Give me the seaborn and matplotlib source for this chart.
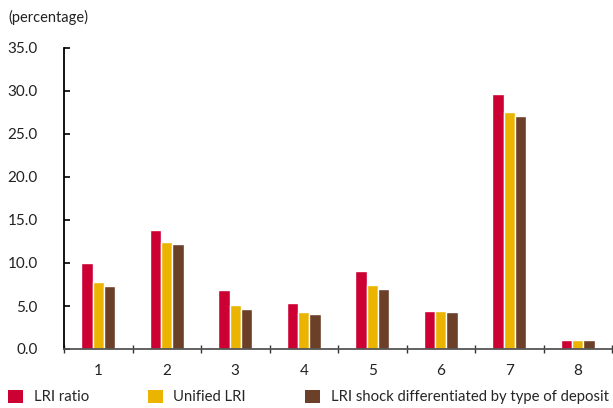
import numpy as np
import pandas as pd
import matplotlib.pyplot as plt
import seaborn as sns
from matplotlib.patches import Patch

# data
groups = ['1', '2', '3', '4', '5', '6', '7', '8']
lri_ratio = [10.0, 13.8, 6.9, 5.35, 9.05, 4.4, 29.7, 1.05]
unified_lri = [7.8, 12.4, 5.1, 4.3, 7.45, 4.4, 27.6, 1.0]
lri_shock = [7.3, 12.2, 4.65, 4.05, 7.0, 4.3, 27.1, 1.0]
series = ['LRI ratio', 'Unified LRI', 'LRI shock differentiated by type of deposit']
colors = ['#CC0033', '#EBB400', '#6B3F28']

df = pd.DataFrame({
    'group': groups * 3,
    'value': lri_ratio + unified_lri + lri_shock,
    'series': [series[0]] * 8 + [series[1]] * 8 + [series[2]] * 8,
})

sns.set_style('white')
plt.rcParams['font.family'] = ['Lato', 'DejaVu Sans']

fig = plt.figure(figsize=(6.13, 4.08), dpi=100)
ax = fig.add_axes([64 / 613, 1 - 349 / 408, 548 / 613, 301 / 408])

sns.barplot(data=df, x='group', y='value', hue='series', palette=colors,
            width=0.5, gap=0, ax=ax, legend=False, saturation=1)

ax.set_ylim(0, 35)
ax.set_xlim(-0.5, 7.5)
ax.set_yticks(np.arange(0, 35.1, 5))
ax.set_yticklabels([f'{v:.1f}' for v in np.arange(0, 35.1, 5)], fontsize=11, color='#222222')
ax.set_xticks(range(8))
ax.set_xticklabels(groups, fontsize=11, color='#222222')
ax.set_xticks(np.arange(-0.5, 7.6, 1), minor=True)
ax.tick_params(axis='x', which='major', bottom=True, length=0, pad=11)
ax.tick_params(axis='x', which='minor', bottom=True, length=6, direction='inout', width=1, color='#333333')
ax.tick_params(axis='y', left=True, length=4, direction='in', width=1.2, color='black', pad=19)
ax.set_xlabel('')
ax.set_ylabel('')
ax.spines['top'].set_visible(False)
ax.spines['right'].set_visible(False)
ax.spines['left'].set_color('black')
ax.spines['left'].set_linewidth(1.3)
ax.spines['bottom'].set_color('#555555')
ax.spines['bottom'].set_linewidth(1.3)

fig.text(8 / 613, 1 - 17 / 408, '(percentage)', fontsize=10.5, va='center', ha='left', color='#222222')

handles = [Patch(facecolor=c, edgecolor='none') for c in colors]
fig.legend(handles, series, loc='center left', bbox_to_anchor=(4 / 613, 1 - 397 / 408, 1 - 4 / 613, 0),
           mode='expand', ncol=3, frameon=False, fontsize=10.7, handlelength=1.0, handleheight=1.0,
           handletextpad=0.7, borderaxespad=0, borderpad=0.3)

fig.savefig('out.png', dpi=100)
